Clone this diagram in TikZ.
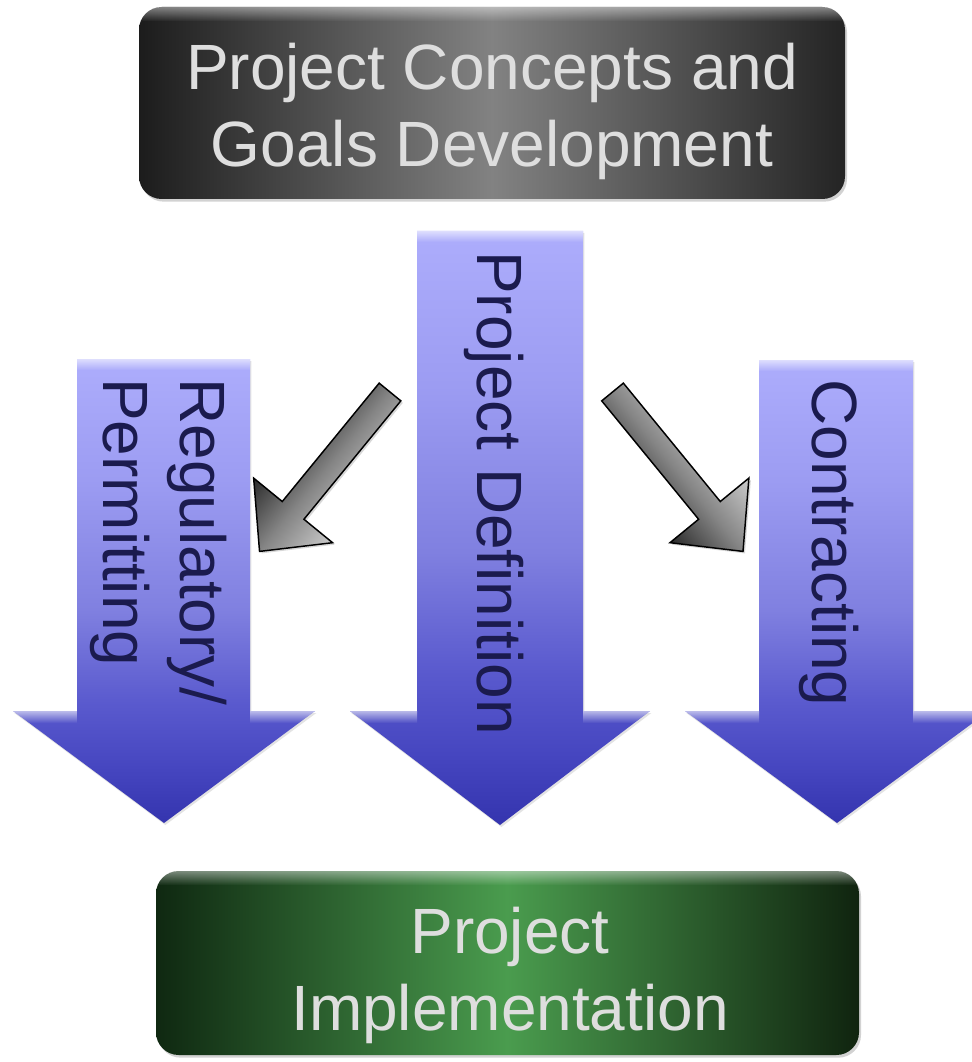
\documentclass[tikz,border=0pt]{standalone}
\usepackage{fontspec}
\setmainfont{Liberation Sans}
\usetikzlibrary{shadows,fadings}

\definecolor{armink}{HTML}{1B1B4E}
\definecolor{slabink}{HTML}{DEDEDE}
\definecolor{blueA}{HTML}{ADADFC}
\definecolor{blueB}{HTML}{9C9CF2}
\definecolor{blueC}{HTML}{8080E0}
\definecolor{blueD}{HTML}{5A5ACE}
\definecolor{blueE}{HTML}{4646C0}
\definecolor{blueF}{HTML}{3434AE}
\definecolor{charcoalL}{HTML}{1C1C1C}
\definecolor{charcoalM}{HTML}{828282}
\definecolor{charcoalR}{HTML}{242424}
\definecolor{forestL}{HTML}{0F2811}
\definecolor{forestM}{HTML}{4A9C4E}
\definecolor{forestR}{HTML}{10240F}
\definecolor{steelLight}{HTML}{CBCBCB}
\definecolor{steelMid}{HTML}{858585}
\definecolor{steelDark}{HTML}{2A2A2A}

% vertical gradient of the blue block arrows (bottom to top)
\pgfdeclareverticalshading{bluearrow}{100bp}{color(0bp)=(blueF); color(25bp)=(blueF); color(31bp)=(blueE); color(38bp)=(blueD); color(48bp)=(blueC); color(62bp)=(blueB); color(75bp)=(blueA); color(100bp)=(blueA)}

% soft highlights that fade out downwards
\tikzfading[name=glossfade, top color=transparent!40, bottom color=transparent!100]
\tikzfading[name=rimfade, top color=transparent!55, bottom color=transparent!100]

\tikzset{
  slab/.style={rectangle, rounded corners=17pt, inner sep=0pt,
    drop shadow={opacity=0.35, shadow xshift=1.5pt, shadow yshift=-2pt}},
  conceptslab/.style={slab, minimum width=529.5pt, minimum height=144pt,
    left color=charcoalL, right color=charcoalR, middle color=charcoalM},
  implementslab/.style={slab, minimum width=527.25pt, minimum height=138pt,
    left color=forestL, right color=forestR, middle color=forestM},
  slabtext/.style={inner sep=0pt, align=center, text=slabink,
    font=\fontsize{48}{57.75}\selectfont},
  armtext/.style={rotate=-90, inner sep=0pt, text=armink,
    font=\fontsize{48}{58}\selectfont},
  blockarrow/.style={shading=bluearrow,
    drop shadow={opacity=0.22, shadow xshift=1pt, shadow yshift=-1.5pt}},
  gloss/.style={fill=white, path fading=glossfade},
  rim/.style={fill=white, path fading=rimfade},
  % small grey arrow, drawn in its own frame (pointing along +x);
  % the gradient runs across the shaft, light on the +y side
  greyarrow/.style={draw=black, line width=1.1pt, line join=miter,
    top color=steelLight, bottom color=steelDark, middle color=steelMid},
  greyframe/.style={x=0.75pt, y=0.75pt},
}

\begin{document}
\begin{tikzpicture}[x=0.75pt, y=-0.75pt]
  \useasboundingbox (0,0) rectangle (971,1062);
  \fill[white] (0,0) rectangle (971,1062);

  % ---- top box -------------------------------------------------------
  \node[conceptslab] (concepts) at (492,103) {};
  \begin{scope}
    \clip[rounded corners=17pt] (concepts.north west) rectangle (concepts.south east);
    \fill[rim] (concepts.north west) rectangle ([yshift=-11pt]concepts.north east);
  \end{scope}
  \node[slabtext, anchor=north] (conceptstext) at (492,43)
    {Project Concepts and\\Goals Development};

  % ---- blue block arrows ---------------------------------------------
  \path[blockarrow] (77,359) -- (250,359) -- (250,711) -- (315,711)
    -- (164,823) -- (13,711) -- (77,711) -- cycle;
  \path[blockarrow] (417,231) -- (583,231) -- (583,711) -- (650,711)
    -- (500,825) -- (350,711) -- (417,711) -- cycle;
  \path[blockarrow] (759,360) -- (913,360) -- (913,711) -- (989,711)
    -- (837,823) -- (685,711) -- (759,711) -- cycle;

  % bevel highlights on shaft tops and head shoulders
  \fill[gloss] (77,359) rectangle (250,370);
  \fill[gloss] (417,231) rectangle (583,242);
  \fill[gloss] (759,360) rectangle (913,371);
  \fill[gloss] (13,711) -- (77,711) -- (77,723) -- (29,723) -- cycle;
  \fill[gloss] (250,711) -- (315,711) -- (299,723) -- (250,723) -- cycle;
  \fill[gloss] (350,711) -- (417,711) -- (417,723) -- (366,723) -- cycle;
  \fill[gloss] (583,711) -- (650,711) -- (634,723) -- (583,723) -- cycle;
  \fill[gloss] (685,711) -- (759,711) -- (759,723) -- (701,723) -- cycle;
  \fill[gloss] (913,711) -- (989,711) -- (973,723) -- (913,723) -- cycle;

  % ---- arrow labels --------------------------------------------------
  \node[armtext, anchor=north west, align=left] (permitting) at (227,378)
    {Regulatory/\\Permitting};
  \node[armtext, anchor=base west] (definition) at (477,251) {Project Definition};
  \node[armtext, anchor=base west] (contracting) at (812,379) {Contracting};

  % ---- grey diagonal arrows (canvas frames start at the shaft tops) ----
  \begin{scope}[transform canvas={shift={(292.5pt,-294pt)}, rotate=-129.3}, greyframe]
    \path[greyarrow, drop shadow={opacity=0.3, shadow xshift=0.2pt, shadow yshift=2.1pt}]
      (0,14) -- (153,14) -- (153,51) -- (206,0) -- (153,-51) -- (153,-14)
      -- (0,-14) -- cycle;
  \end{scope}
  \begin{scope}[transform canvas={shift={(459.4pt,-294pt)}, rotate=-50.7}, greyframe]
    \path[greyarrow, drop shadow={opacity=0.3, shadow xshift=2.1pt, shadow yshift=0.2pt}]
      (0,14) -- (153,14) -- (153,51) -- (206,0) -- (153,-51) -- (153,-14)
      -- (0,-14) -- cycle;
  \end{scope}

  % ---- bottom box ----------------------------------------------------
  \node[implementslab] (implement) at (507.5,963) {};
  \begin{scope}
    \clip[rounded corners=17pt] (implement.north west) rectangle (implement.south east);
    \fill[rim] (implement.north west) rectangle ([yshift=-11pt]implement.north east);
  \end{scope}
  \node[slabtext, anchor=north] (implementtext) at (510,907)
    {Project\\Implementation};
\end{tikzpicture}
\end{document}
